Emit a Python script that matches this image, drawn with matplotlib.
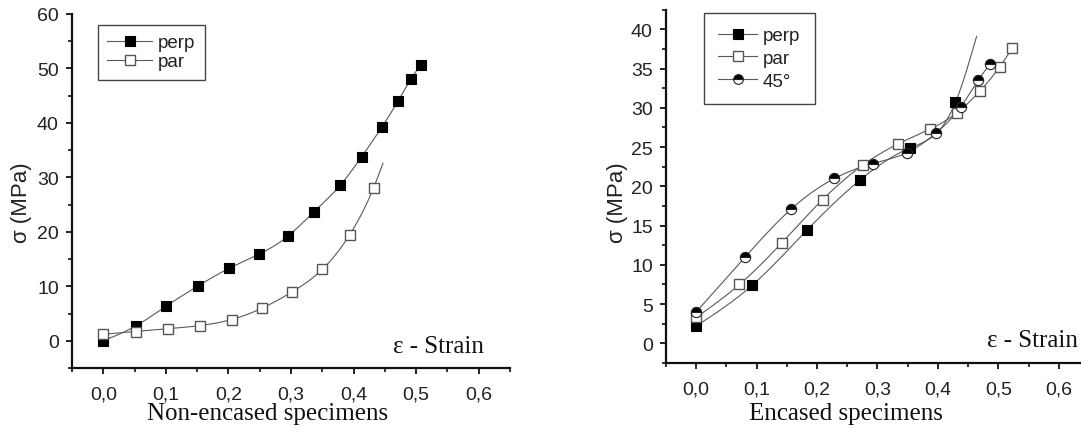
import numpy as np
import matplotlib
matplotlib.use("Agg")
import matplotlib.pyplot as plt
from matplotlib.ticker import MultipleLocator, FuncFormatter
from matplotlib.lines import Line2D

# ---------------- data ----------------
# Left panel: non-encased specimens
left_perp_x = [0.0, 0.0515, 0.101, 0.152, 0.201, 0.249, 0.295, 0.336, 0.379, 0.413, 0.445, 0.471, 0.492, 0.507]
left_perp_y = [0.0, 2.7, 6.4, 10.1, 13.3, 15.9, 19.2, 23.6, 28.6, 33.8, 39.2, 44.0, 48.1, 50.6]
left_par_x = [0.0, 0.0515, 0.103, 0.155, 0.205, 0.254, 0.302, 0.350, 0.394, 0.432, 0.447]
left_par_y = [1.2, 1.7, 2.2, 2.8, 3.9, 6.0, 9.0, 13.1, 19.5, 28.1, 32.6]
left_par_marked = 10  # last point is curve end only

# Right panel: encased specimens
right_perp_x = [0.0, 0.0926, 0.183, 0.271, 0.354, 0.429, 0.464]
right_perp_y = [2.2, 7.4, 14.4, 20.8, 24.9, 30.7, 39.1]
right_perp_marked = 6
right_par_x = [0.0, 0.0716, 0.1416, 0.209, 0.2755, 0.334, 0.387, 0.432, 0.469, 0.502, 0.523]
right_par_y = [3.3, 7.5, 12.8, 18.3, 22.7, 25.4, 27.3, 29.4, 32.1, 35.2, 37.6]
right_45_x = [0.0, 0.081, 0.157, 0.2287, 0.292, 0.349, 0.397, 0.4375, 0.4667, 0.486]
right_45_y = [4.0, 11.0, 17.1, 21.0, 22.9, 24.3, 26.8, 30.1, 33.5, 35.6]

xticks = [0.0, 0.1, 0.2, 0.3, 0.4, 0.5, 0.6]
left_yticks = [0, 10, 20, 30, 40, 50, 60]
right_yticks = [0, 5, 10, 15, 20, 25, 30, 35, 40]


def natural_spline(x, y, n=300):
    x = np.asarray(x, float)
    y = np.asarray(y, float)
    k = len(x)
    h = np.diff(x)
    A = np.zeros((k, k))
    b = np.zeros(k)
    A[0, 0] = 1
    A[-1, -1] = 1
    for i in range(1, k - 1):
        A[i, i - 1] = h[i - 1]
        A[i, i] = 2 * (h[i - 1] + h[i])
        A[i, i + 1] = h[i]
        b[i] = 6 * ((y[i + 1] - y[i]) / h[i] - (y[i] - y[i - 1]) / h[i - 1])
    M = np.linalg.solve(A, b)
    xs = np.linspace(x[0], x[-1], n)
    idx = np.clip(np.searchsorted(x, xs) - 1, 0, k - 2)
    x0, x1 = x[idx], x[idx + 1]
    hh = x1 - x0
    t0 = x1 - xs
    t1 = xs - x0
    ys = (M[idx] * t0 ** 3 + M[idx + 1] * t1 ** 3) / (6 * hh) \
        + (y[idx] / hh - M[idx] * hh / 6) * t0 \
        + (y[idx + 1] / hh - M[idx + 1] * hh / 6) * t1
    return xs, ys


LINE_C = "#5a5a5a"
LW = 0.8
MS = 7.4
plt.rcParams['font.family'] = ['Liberation Sans', 'DejaVu Sans']

fig = plt.figure(figsize=(10.81, 4.35), dpi=100)
axL = fig.add_axes([72 / 1081, 1 - 369 / 435, 438 / 1081, 354 / 435])
axR = fig.add_axes([666 / 1081, 1 - 364 / 435, 423 / 1081, 353.3 / 435])

comma = FuncFormatter(lambda v, p: f"{v:.1f}".replace('.', ','))


def style_axes(ax, ylim, ymin, yticks):
    ax.set_xlim(-0.05, 0.65)
    ax.set_ylim(*ylim)
    for s in ['top', 'right']:
        ax.spines[s].set_visible(False)
    for s in ['left', 'bottom']:
        ax.spines[s].set_linewidth(1.6)
        ax.spines[s].set_color('#111111')
    ax.set_xticks(xticks)
    ax.xaxis.set_major_formatter(comma)
    ax.xaxis.set_minor_locator(MultipleLocator(0.05))
    ax.set_yticks(yticks)
    ax.yaxis.set_minor_locator(MultipleLocator(ymin))
    ax.tick_params(which='major', direction='out', length=4.5, width=1.3,
                   labelsize=14, labelcolor='#222222', color='#111111')
    ax.tick_params(which='minor', direction='out', length=3, width=1.2, color='#111111')
    ax.tick_params(axis='x', which='major', pad=8)
    ax.tick_params(axis='y', which='major', pad=5)
    ax.patch.set_visible(False)


def plot_series(ax, x, y, nmark, label, **mk):
    xs, ys = natural_spline(x, y)
    ax.plot(xs, ys, color=LINE_C, lw=LW, zorder=2)
    ax.plot(x[:nmark], y[:nmark], ls='none', ms=MS, label=label, zorder=3, **mk)


filled_sq = dict(marker='s', mfc='black', mec='black', mew=0.8)
open_sq = dict(marker='s', mfc='white', mec='#555555', mew=1.0)
half_c = dict(marker='o', fillstyle='top', mfc='black', mfcalt='white', mec='#222222', mew=0.8)

# Left
style_axes(axL, (-5, 60), 5, left_yticks)
plot_series(axL, left_perp_x, left_perp_y, len(left_perp_x), 'perp', **filled_sq)
plot_series(axL, left_par_x, left_par_y, left_par_marked, 'par', **open_sq)

# Right
style_axes(axR, (-2.5, 42.5), 2.5, right_yticks)
plot_series(axR, right_perp_x, right_perp_y, right_perp_marked, 'perp', **filled_sq)
plot_series(axR, right_par_x, right_par_y, len(right_par_x), 'par', **open_sq)
plot_series(axR, right_45_x, right_45_y, len(right_45_x), '45°', **half_c)


def make_legend(ax, labels, specs, loc_bbox, hl, ls, bp):
    handles = [Line2D([], [], color=LINE_C, lw=LW, ms=MS - 0.4, **mk) for mk in specs]
    leg = ax.legend(handles, labels, loc='upper left', bbox_to_anchor=loc_bbox,
                    frameon=True, fancybox=False, shadow=False, fontsize=13.5,
                    handlelength=hl, handletextpad=0.3, labelspacing=ls,
                    borderpad=bp, borderaxespad=0, framealpha=1)
    leg.get_frame().set_edgecolor('#444444')
    leg.get_frame().set_linewidth(1.0)
    for t in leg.get_texts():
        t.set_color('#222222')
    return leg


make_legend(axL, ['perp', 'par'], [filled_sq, open_sq],
            ((98 - 72) / 438, (369 - 26) / 354), 2.4, 0.1, 0.5)
make_legend(axR, ['perp', 'par', '45°'], [filled_sq, open_sq, half_c],
            ((704 - 666) / 423, (364 - 14) / 353.3), 2.1, 0.3, 0.75)

# y labels
for xp in (22, 618):
    fig.text(xp / 1081, 1 - 203 / 435, 'σ (MPa)', rotation=90, ha='center', va='center',
             fontsize=16, color='#222222')

# x labels (serif)
fig.text(268 / 1081, 1 - 414 / 435, 'Non-encased specimens', ha='center', va='center',
         fontsize=18, family='Liberation Serif', color='#111111')
fig.text(846 / 1081, 1 - 414 / 435, 'Encased specimens', ha='center', va='center',
         fontsize=18, family='Liberation Serif', color='#111111')

# in-plot strain labels
fig.text(393 / 1081, 1 - 353 / 435, 'ε - Strain', ha='left', va='baseline',
         fontsize=18, family='Liberation Serif', color='#111111')
fig.text(987 / 1081, 1 - 347 / 435, 'ε - Strain', ha='left', va='baseline',
         fontsize=18, family='Liberation Serif', color='#111111')

fig.savefig('out.png', dpi=100)
